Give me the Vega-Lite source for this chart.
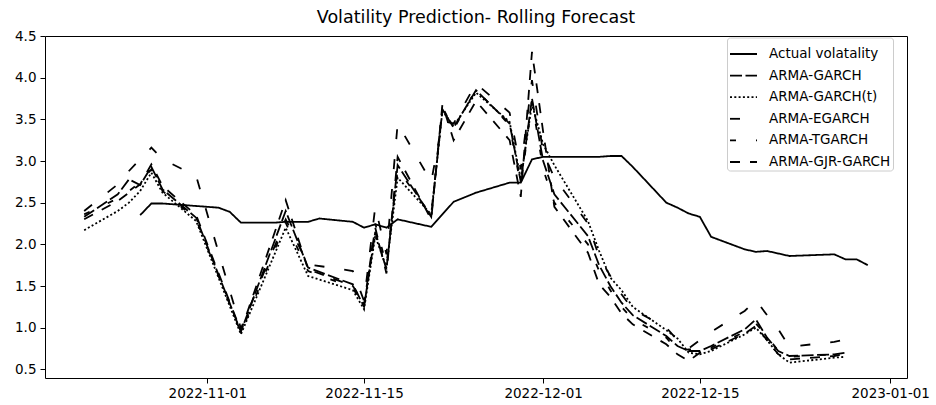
{
  "$schema": "https://vega.github.io/schema/vega-lite/v6.json",
  "width": 862,
  "height": 342,
  "autosize": {"type": "none"},
  "padding": {"left": 45, "top": 36, "right": 29, "bottom": 27},
  "background": "white",
  "title": {
    "text": "Volatility Prediction- Rolling Forecast",
    "font": "DejaVu Sans",
    "fontSize": 17.5,
    "fontWeight": "normal",
    "color": "black",
    "anchor": "middle",
    "offset": 3
  },
  "data": {
    "values": [
      {"date": "2022-10-26", "series": "Actual volatality", "value": 2.35},
      {"date": "2022-10-27", "series": "Actual volatality", "value": 2.49},
      {"date": "2022-10-28", "series": "Actual volatality", "value": 2.49},
      {"date": "2022-10-31", "series": "Actual volatality", "value": 2.46},
      {"date": "2022-11-01", "series": "Actual volatality", "value": 2.45},
      {"date": "2022-11-02", "series": "Actual volatality", "value": 2.44},
      {"date": "2022-11-03", "series": "Actual volatality", "value": 2.39},
      {"date": "2022-11-04", "series": "Actual volatality", "value": 2.26},
      {"date": "2022-11-07", "series": "Actual volatality", "value": 2.26},
      {"date": "2022-11-08", "series": "Actual volatality", "value": 2.27},
      {"date": "2022-11-09", "series": "Actual volatality", "value": 2.27},
      {"date": "2022-11-10", "series": "Actual volatality", "value": 2.27},
      {"date": "2022-11-11", "series": "Actual volatality", "value": 2.31},
      {"date": "2022-11-14", "series": "Actual volatality", "value": 2.27},
      {"date": "2022-11-15", "series": "Actual volatality", "value": 2.20},
      {"date": "2022-11-16", "series": "Actual volatality", "value": 2.24},
      {"date": "2022-11-17", "series": "Actual volatality", "value": 2.20},
      {"date": "2022-11-18", "series": "Actual volatality", "value": 2.30},
      {"date": "2022-11-21", "series": "Actual volatality", "value": 2.21},
      {"date": "2022-11-23", "series": "Actual volatality", "value": 2.51},
      {"date": "2022-11-25", "series": "Actual volatality", "value": 2.62},
      {"date": "2022-11-28", "series": "Actual volatality", "value": 2.74},
      {"date": "2022-11-29", "series": "Actual volatality", "value": 2.74},
      {"date": "2022-11-30", "series": "Actual volatality", "value": 3.02},
      {"date": "2022-12-01", "series": "Actual volatality", "value": 3.05},
      {"date": "2022-12-02", "series": "Actual volatality", "value": 3.05},
      {"date": "2022-12-05", "series": "Actual volatality", "value": 3.05},
      {"date": "2022-12-06", "series": "Actual volatality", "value": 3.05},
      {"date": "2022-12-07", "series": "Actual volatality", "value": 3.06},
      {"date": "2022-12-08", "series": "Actual volatality", "value": 3.06},
      {"date": "2022-12-09", "series": "Actual volatality", "value": 2.93},
      {"date": "2022-12-12", "series": "Actual volatality", "value": 2.50},
      {"date": "2022-12-13", "series": "Actual volatality", "value": 2.44},
      {"date": "2022-12-14", "series": "Actual volatality", "value": 2.37},
      {"date": "2022-12-15", "series": "Actual volatality", "value": 2.33},
      {"date": "2022-12-16", "series": "Actual volatality", "value": 2.09},
      {"date": "2022-12-19", "series": "Actual volatality", "value": 1.94},
      {"date": "2022-12-20", "series": "Actual volatality", "value": 1.91},
      {"date": "2022-12-21", "series": "Actual volatality", "value": 1.92},
      {"date": "2022-12-22", "series": "Actual volatality", "value": 1.89},
      {"date": "2022-12-23", "series": "Actual volatality", "value": 1.86},
      {"date": "2022-12-27", "series": "Actual volatality", "value": 1.88},
      {"date": "2022-12-28", "series": "Actual volatality", "value": 1.82},
      {"date": "2022-12-29", "series": "Actual volatality", "value": 1.82},
      {"date": "2022-12-30", "series": "Actual volatality", "value": 1.75},

      {"date": "2022-10-21", "series": "ARMA-GARCH", "value": 2.33},
      {"date": "2022-10-24", "series": "ARMA-GARCH", "value": 2.60},
      {"date": "2022-10-25", "series": "ARMA-GARCH", "value": 2.78},
      {"date": "2022-10-26", "series": "ARMA-GARCH", "value": 2.71},
      {"date": "2022-10-27", "series": "ARMA-GARCH", "value": 2.93},
      {"date": "2022-10-28", "series": "ARMA-GARCH", "value": 2.66},
      {"date": "2022-10-31", "series": "ARMA-GARCH", "value": 2.32},
      {"date": "2022-11-04", "series": "ARMA-GARCH", "value": 0.95},
      {"date": "2022-11-08", "series": "ARMA-GARCH", "value": 2.40},
      {"date": "2022-11-10", "series": "ARMA-GARCH", "value": 1.72},
      {"date": "2022-11-14", "series": "ARMA-GARCH", "value": 1.52},
      {"date": "2022-11-15", "series": "ARMA-GARCH", "value": 1.25},
      {"date": "2022-11-16", "series": "ARMA-GARCH", "value": 2.15},
      {"date": "2022-11-17", "series": "ARMA-GARCH", "value": 1.70},
      {"date": "2022-11-18", "series": "ARMA-GARCH", "value": 2.95},
      {"date": "2022-11-21", "series": "ARMA-GARCH", "value": 2.33},
      {"date": "2022-11-22", "series": "ARMA-GARCH", "value": 3.62},
      {"date": "2022-11-23", "series": "ARMA-GARCH", "value": 3.40},
      {"date": "2022-11-25", "series": "ARMA-GARCH", "value": 3.85},
      {"date": "2022-11-28", "series": "ARMA-GARCH", "value": 3.45},
      {"date": "2022-11-29", "series": "ARMA-GARCH", "value": 2.75},
      {"date": "2022-11-30", "series": "ARMA-GARCH", "value": 3.75},
      {"date": "2022-12-01", "series": "ARMA-GARCH", "value": 3.00},
      {"date": "2022-12-02", "series": "ARMA-GARCH", "value": 2.60},
      {"date": "2022-12-05", "series": "ARMA-GARCH", "value": 2.10},
      {"date": "2022-12-06", "series": "ARMA-GARCH", "value": 1.75},
      {"date": "2022-12-07", "series": "ARMA-GARCH", "value": 1.50},
      {"date": "2022-12-08", "series": "ARMA-GARCH", "value": 1.30},
      {"date": "2022-12-09", "series": "ARMA-GARCH", "value": 1.15},
      {"date": "2022-12-12", "series": "ARMA-GARCH", "value": 0.90},
      {"date": "2022-12-13", "series": "ARMA-GARCH", "value": 0.78},
      {"date": "2022-12-14", "series": "ARMA-GARCH", "value": 0.72},
      {"date": "2022-12-15", "series": "ARMA-GARCH", "value": 0.72},
      {"date": "2022-12-16", "series": "ARMA-GARCH", "value": 0.78},
      {"date": "2022-12-19", "series": "ARMA-GARCH", "value": 0.98},
      {"date": "2022-12-20", "series": "ARMA-GARCH", "value": 1.10},
      {"date": "2022-12-21", "series": "ARMA-GARCH", "value": 0.88},
      {"date": "2022-12-22", "series": "ARMA-GARCH", "value": 0.72},
      {"date": "2022-12-23", "series": "ARMA-GARCH", "value": 0.66},
      {"date": "2022-12-27", "series": "ARMA-GARCH", "value": 0.68},
      {"date": "2022-12-28", "series": "ARMA-GARCH", "value": 0.70},

      {"date": "2022-10-21", "series": "ARMA-GARCH(t)", "value": 2.17},
      {"date": "2022-10-24", "series": "ARMA-GARCH(t)", "value": 2.40},
      {"date": "2022-10-25", "series": "ARMA-GARCH(t)", "value": 2.50},
      {"date": "2022-10-26", "series": "ARMA-GARCH(t)", "value": 2.64},
      {"date": "2022-10-27", "series": "ARMA-GARCH(t)", "value": 2.86},
      {"date": "2022-10-28", "series": "ARMA-GARCH(t)", "value": 2.62},
      {"date": "2022-10-31", "series": "ARMA-GARCH(t)", "value": 2.28},
      {"date": "2022-11-04", "series": "ARMA-GARCH(t)", "value": 0.92},
      {"date": "2022-11-08", "series": "ARMA-GARCH(t)", "value": 2.20},
      {"date": "2022-11-10", "series": "ARMA-GARCH(t)", "value": 1.62},
      {"date": "2022-11-14", "series": "ARMA-GARCH(t)", "value": 1.45},
      {"date": "2022-11-15", "series": "ARMA-GARCH(t)", "value": 1.22},
      {"date": "2022-11-16", "series": "ARMA-GARCH(t)", "value": 2.10},
      {"date": "2022-11-17", "series": "ARMA-GARCH(t)", "value": 1.72},
      {"date": "2022-11-18", "series": "ARMA-GARCH(t)", "value": 2.80},
      {"date": "2022-11-21", "series": "ARMA-GARCH(t)", "value": 2.36},
      {"date": "2022-11-22", "series": "ARMA-GARCH(t)", "value": 3.60},
      {"date": "2022-11-23", "series": "ARMA-GARCH(t)", "value": 3.42},
      {"date": "2022-11-25", "series": "ARMA-GARCH(t)", "value": 3.82},
      {"date": "2022-11-28", "series": "ARMA-GARCH(t)", "value": 3.47},
      {"date": "2022-11-29", "series": "ARMA-GARCH(t)", "value": 2.78},
      {"date": "2022-11-30", "series": "ARMA-GARCH(t)", "value": 3.68},
      {"date": "2022-12-01", "series": "ARMA-GARCH(t)", "value": 3.20},
      {"date": "2022-12-02", "series": "ARMA-GARCH(t)", "value": 2.95},
      {"date": "2022-12-05", "series": "ARMA-GARCH(t)", "value": 2.28},
      {"date": "2022-12-06", "series": "ARMA-GARCH(t)", "value": 1.92},
      {"date": "2022-12-07", "series": "ARMA-GARCH(t)", "value": 1.60},
      {"date": "2022-12-08", "series": "ARMA-GARCH(t)", "value": 1.45},
      {"date": "2022-12-09", "series": "ARMA-GARCH(t)", "value": 1.25},
      {"date": "2022-12-12", "series": "ARMA-GARCH(t)", "value": 0.97},
      {"date": "2022-12-13", "series": "ARMA-GARCH(t)", "value": 0.87},
      {"date": "2022-12-14", "series": "ARMA-GARCH(t)", "value": 0.70},
      {"date": "2022-12-15", "series": "ARMA-GARCH(t)", "value": 0.68},
      {"date": "2022-12-16", "series": "ARMA-GARCH(t)", "value": 0.72},
      {"date": "2022-12-19", "series": "ARMA-GARCH(t)", "value": 0.92},
      {"date": "2022-12-20", "series": "ARMA-GARCH(t)", "value": 1.00},
      {"date": "2022-12-21", "series": "ARMA-GARCH(t)", "value": 0.85},
      {"date": "2022-12-22", "series": "ARMA-GARCH(t)", "value": 0.68},
      {"date": "2022-12-23", "series": "ARMA-GARCH(t)", "value": 0.58},
      {"date": "2022-12-27", "series": "ARMA-GARCH(t)", "value": 0.64},
      {"date": "2022-12-28", "series": "ARMA-GARCH(t)", "value": 0.65},

      {"date": "2022-10-21", "series": "ARMA-EGARCH", "value": 2.40},
      {"date": "2022-10-24", "series": "ARMA-EGARCH", "value": 2.72},
      {"date": "2022-10-25", "series": "ARMA-EGARCH", "value": 2.88},
      {"date": "2022-10-26", "series": "ARMA-EGARCH", "value": 3.02},
      {"date": "2022-10-27", "series": "ARMA-EGARCH", "value": 3.16},
      {"date": "2022-10-28", "series": "ARMA-EGARCH", "value": 3.02},
      {"date": "2022-10-31", "series": "ARMA-EGARCH", "value": 2.82},
      {"date": "2022-11-04", "series": "ARMA-EGARCH", "value": 0.99},
      {"date": "2022-11-08", "series": "ARMA-EGARCH", "value": 2.30},
      {"date": "2022-11-10", "series": "ARMA-EGARCH", "value": 1.76},
      {"date": "2022-11-14", "series": "ARMA-EGARCH", "value": 1.68},
      {"date": "2022-11-15", "series": "ARMA-EGARCH", "value": 1.32},
      {"date": "2022-11-16", "series": "ARMA-EGARCH", "value": 2.45},
      {"date": "2022-11-17", "series": "ARMA-EGARCH", "value": 1.88},
      {"date": "2022-11-18", "series": "ARMA-EGARCH", "value": 3.45},
      {"date": "2022-11-21", "series": "ARMA-EGARCH", "value": 2.75},
      {"date": "2022-11-22", "series": "ARMA-EGARCH", "value": 3.48},
      {"date": "2022-11-23", "series": "ARMA-EGARCH", "value": 3.45},
      {"date": "2022-11-25", "series": "ARMA-EGARCH", "value": 3.93},
      {"date": "2022-11-28", "series": "ARMA-EGARCH", "value": 3.58},
      {"date": "2022-11-29", "series": "ARMA-EGARCH", "value": 2.90},
      {"date": "2022-11-30", "series": "ARMA-EGARCH", "value": 3.97},
      {"date": "2022-12-01", "series": "ARMA-EGARCH", "value": 3.10},
      {"date": "2022-12-02", "series": "ARMA-EGARCH", "value": 2.80},
      {"date": "2022-12-05", "series": "ARMA-EGARCH", "value": 2.25},
      {"date": "2022-12-06", "series": "ARMA-EGARCH", "value": 1.85},
      {"date": "2022-12-07", "series": "ARMA-EGARCH", "value": 1.62},
      {"date": "2022-12-08", "series": "ARMA-EGARCH", "value": 1.40},
      {"date": "2022-12-09", "series": "ARMA-EGARCH", "value": 1.22},
      {"date": "2022-12-12", "series": "ARMA-EGARCH", "value": 1.00},
      {"date": "2022-12-13", "series": "ARMA-EGARCH", "value": 0.85},
      {"date": "2022-12-14", "series": "ARMA-EGARCH", "value": 0.75},
      {"date": "2022-12-15", "series": "ARMA-EGARCH", "value": 0.85},
      {"date": "2022-12-16", "series": "ARMA-EGARCH", "value": 0.95},
      {"date": "2022-12-19", "series": "ARMA-EGARCH", "value": 1.20},
      {"date": "2022-12-20", "series": "ARMA-EGARCH", "value": 1.33},
      {"date": "2022-12-21", "series": "ARMA-EGARCH", "value": 1.15},
      {"date": "2022-12-22", "series": "ARMA-EGARCH", "value": 0.98},
      {"date": "2022-12-23", "series": "ARMA-EGARCH", "value": 0.77},
      {"date": "2022-12-27", "series": "ARMA-EGARCH", "value": 0.83},
      {"date": "2022-12-28", "series": "ARMA-EGARCH", "value": 0.86},

      {"date": "2022-10-21", "series": "ARMA-TGARCH", "value": 2.36},
      {"date": "2022-10-24", "series": "ARMA-TGARCH", "value": 2.55},
      {"date": "2022-10-25", "series": "ARMA-TGARCH", "value": 2.64},
      {"date": "2022-10-26", "series": "ARMA-TGARCH", "value": 2.74},
      {"date": "2022-10-27", "series": "ARMA-TGARCH", "value": 2.90},
      {"date": "2022-10-28", "series": "ARMA-TGARCH", "value": 2.64},
      {"date": "2022-10-31", "series": "ARMA-TGARCH", "value": 2.30},
      {"date": "2022-11-04", "series": "ARMA-TGARCH", "value": 0.94},
      {"date": "2022-11-08", "series": "ARMA-TGARCH", "value": 2.26},
      {"date": "2022-11-10", "series": "ARMA-TGARCH", "value": 1.68},
      {"date": "2022-11-14", "series": "ARMA-TGARCH", "value": 1.48},
      {"date": "2022-11-15", "series": "ARMA-TGARCH", "value": 1.24},
      {"date": "2022-11-16", "series": "ARMA-TGARCH", "value": 2.25},
      {"date": "2022-11-17", "series": "ARMA-TGARCH", "value": 1.75},
      {"date": "2022-11-18", "series": "ARMA-TGARCH", "value": 2.90},
      {"date": "2022-11-21", "series": "ARMA-TGARCH", "value": 2.35},
      {"date": "2022-11-22", "series": "ARMA-TGARCH", "value": 3.65},
      {"date": "2022-11-23", "series": "ARMA-TGARCH", "value": 3.38},
      {"date": "2022-11-25", "series": "ARMA-TGARCH", "value": 3.86},
      {"date": "2022-11-28", "series": "ARMA-TGARCH", "value": 3.43},
      {"date": "2022-11-29", "series": "ARMA-TGARCH", "value": 2.70},
      {"date": "2022-11-30", "series": "ARMA-TGARCH", "value": 3.72},
      {"date": "2022-12-01", "series": "ARMA-TGARCH", "value": 2.90},
      {"date": "2022-12-02", "series": "ARMA-TGARCH", "value": 2.50},
      {"date": "2022-12-05", "series": "ARMA-TGARCH", "value": 2.00},
      {"date": "2022-12-06", "series": "ARMA-TGARCH", "value": 1.68},
      {"date": "2022-12-07", "series": "ARMA-TGARCH", "value": 1.45},
      {"date": "2022-12-08", "series": "ARMA-TGARCH", "value": 1.25},
      {"date": "2022-12-09", "series": "ARMA-TGARCH", "value": 1.10},
      {"date": "2022-12-12", "series": "ARMA-TGARCH", "value": 0.88},
      {"date": "2022-12-13", "series": "ARMA-TGARCH", "value": 0.72},
      {"date": "2022-12-14", "series": "ARMA-TGARCH", "value": 0.74},
      {"date": "2022-12-15", "series": "ARMA-TGARCH", "value": 0.73},
      {"date": "2022-12-16", "series": "ARMA-TGARCH", "value": 0.76},
      {"date": "2022-12-19", "series": "ARMA-TGARCH", "value": 0.95},
      {"date": "2022-12-20", "series": "ARMA-TGARCH", "value": 1.05},
      {"date": "2022-12-21", "series": "ARMA-TGARCH", "value": 0.90},
      {"date": "2022-12-22", "series": "ARMA-TGARCH", "value": 0.72},
      {"date": "2022-12-23", "series": "ARMA-TGARCH", "value": 0.65},
      {"date": "2022-12-27", "series": "ARMA-TGARCH", "value": 0.68},
      {"date": "2022-12-28", "series": "ARMA-TGARCH", "value": 0.71},

      {"date": "2022-10-21", "series": "ARMA-GJR-GARCH", "value": 2.30},
      {"date": "2022-10-24", "series": "ARMA-GJR-GARCH", "value": 2.52},
      {"date": "2022-10-25", "series": "ARMA-GJR-GARCH", "value": 2.62},
      {"date": "2022-10-26", "series": "ARMA-GJR-GARCH", "value": 2.72},
      {"date": "2022-10-27", "series": "ARMA-GJR-GARCH", "value": 2.96},
      {"date": "2022-10-28", "series": "ARMA-GJR-GARCH", "value": 2.70},
      {"date": "2022-10-31", "series": "ARMA-GJR-GARCH", "value": 2.35},
      {"date": "2022-11-04", "series": "ARMA-GJR-GARCH", "value": 0.96},
      {"date": "2022-11-08", "series": "ARMA-GJR-GARCH", "value": 2.53},
      {"date": "2022-11-10", "series": "ARMA-GJR-GARCH", "value": 1.70},
      {"date": "2022-11-14", "series": "ARMA-GJR-GARCH", "value": 1.50},
      {"date": "2022-11-15", "series": "ARMA-GJR-GARCH", "value": 1.28},
      {"date": "2022-11-16", "series": "ARMA-GJR-GARCH", "value": 2.20},
      {"date": "2022-11-17", "series": "ARMA-GJR-GARCH", "value": 1.65},
      {"date": "2022-11-18", "series": "ARMA-GJR-GARCH", "value": 3.05},
      {"date": "2022-11-21", "series": "ARMA-GJR-GARCH", "value": 2.30},
      {"date": "2022-11-22", "series": "ARMA-GJR-GARCH", "value": 3.68},
      {"date": "2022-11-23", "series": "ARMA-GJR-GARCH", "value": 3.25},
      {"date": "2022-11-25", "series": "ARMA-GJR-GARCH", "value": 3.72},
      {"date": "2022-11-28", "series": "ARMA-GJR-GARCH", "value": 3.25},
      {"date": "2022-11-29", "series": "ARMA-GJR-GARCH", "value": 2.57},
      {"date": "2022-11-30", "series": "ARMA-GJR-GARCH", "value": 4.31},
      {"date": "2022-12-01", "series": "ARMA-GJR-GARCH", "value": 3.35},
      {"date": "2022-12-02", "series": "ARMA-GJR-GARCH", "value": 2.45},
      {"date": "2022-12-05", "series": "ARMA-GJR-GARCH", "value": 1.90},
      {"date": "2022-12-06", "series": "ARMA-GJR-GARCH", "value": 1.52},
      {"date": "2022-12-07", "series": "ARMA-GJR-GARCH", "value": 1.37},
      {"date": "2022-12-08", "series": "ARMA-GJR-GARCH", "value": 1.17},
      {"date": "2022-12-09", "series": "ARMA-GJR-GARCH", "value": 1.04},
      {"date": "2022-12-12", "series": "ARMA-GJR-GARCH", "value": 0.80},
      {"date": "2022-12-13", "series": "ARMA-GJR-GARCH", "value": 0.68},
      {"date": "2022-12-14", "series": "ARMA-GJR-GARCH", "value": 0.60},
      {"date": "2022-12-15", "series": "ARMA-GJR-GARCH", "value": 0.70},
      {"date": "2022-12-16", "series": "ARMA-GJR-GARCH", "value": 0.74},
      {"date": "2022-12-19", "series": "ARMA-GJR-GARCH", "value": 0.93},
      {"date": "2022-12-20", "series": "ARMA-GJR-GARCH", "value": 1.02},
      {"date": "2022-12-21", "series": "ARMA-GJR-GARCH", "value": 0.85},
      {"date": "2022-12-22", "series": "ARMA-GJR-GARCH", "value": 0.68},
      {"date": "2022-12-23", "series": "ARMA-GJR-GARCH", "value": 0.62},
      {"date": "2022-12-27", "series": "ARMA-GJR-GARCH", "value": 0.66},
      {"date": "2022-12-28", "series": "ARMA-GJR-GARCH", "value": 0.69}
    ]
  },
  "mark": {"type": "line", "color": "black", "strokeWidth": 1.8, "strokeCap": "butt", "clip": true},
  "encoding": {
    "x": {
      "field": "date",
      "type": "temporal",
      "scale": {
        "type": "utc",
        "domain": [
          {"year": 2022, "month": 10, "date": 17, "hours": 12, "utc": true},
          {"year": 2023, "month": 1, "date": 2, "hours": 12, "utc": true}
        ],
        "nice": false
      },
      "axis": {
        "title": null,
        "values": [
          {"year": 2022, "month": 11, "date": 1, "utc": true},
          {"year": 2022, "month": 11, "date": 15, "utc": true},
          {"year": 2022, "month": 12, "date": 1, "utc": true},
          {"year": 2022, "month": 12, "date": 15, "utc": true},
          {"year": 2023, "month": 1, "date": 1, "utc": true}
        ],
        "labelExpr": "utcFormat(datum.value, '%Y-%m-%d')",
        "labelAngle": 0,
        "labelPadding": 3
      }
    },
    "y": {
      "field": "value",
      "type": "quantitative",
      "scale": {"domain": [0.396, 4.5], "nice": false, "zero": false},
      "axis": {
        "title": null,
        "values": [0.5, 1.0, 1.5, 2.0, 2.5, 3.0, 3.5, 4.0, 4.5],
        "format": ".1f",
        "labelPadding": 4
      }
    },
    "strokeDash": {
      "field": "series",
      "type": "nominal",
      "scale": {
        "domain": ["Actual volatality", "ARMA-GARCH", "ARMA-GARCH(t)", "ARMA-EGARCH", "ARMA-TGARCH", "ARMA-GJR-GARCH"],
        "range": [[1, 0], [12, 3.5], [2, 2.3], [10, 20], [6, 20], [10, 10]]
      },
      "legend": {
        "title": null,
        "orient": "none",
        "legendX": 682,
        "legendY": 1.5,
        "symbolType": "stroke",
        "symbolSize": 729,
        "symbolStrokeWidth": 1.8,
        "symbolStrokeColor": "black",
        "labelOffset": 11,
        "rowPadding": 0.6,
        "padding": 2,
        "fillColor": "rgba(255,255,255,0.8)",
        "strokeColor": "#cccccc",
        "cornerRadius": 3
      }
    }
  },
  "config": {
    "view": {"stroke": "black", "strokeWidth": 1},
    "axis": {
      "grid": false,
      "domain": false,
      "ticks": true,
      "tickColor": "black",
      "tickSize": 5,
      "tickWidth": 1,
      "labelFont": "DejaVu Sans",
      "labelFontSize": 13.5,
      "labelColor": "black"
    },
    "legend": {
      "labelFont": "DejaVu Sans",
      "labelFontSize": 13.5,
      "labelColor": "black"
    }
  }
}
